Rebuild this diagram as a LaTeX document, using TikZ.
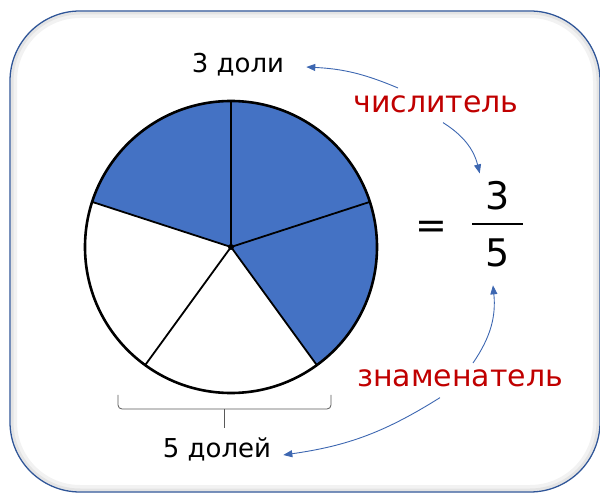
\documentclass[tikz,border=0pt]{standalone}
\usepackage{fontspec}
\setmainfont{DejaVu Sans}
\usetikzlibrary{arrows.meta,calc}
\definecolor{pieblue}{HTML}{4472C4}
\definecolor{frameblue}{HTML}{2F5597}
\definecolor{arrowblue}{HTML}{3D67B1}
\definecolor{termred}{HTML}{C00000}
\definecolor{bracegray}{HTML}{595959}
\tikzset{
  txt/.style={inner sep=0pt, anchor=base, font=\fontsize{26}{30}\selectfont},
  term/.style={inner sep=0pt, anchor=base, text=termred, font=\fontsize{30}{34}\selectfont},
  big/.style={inner sep=0pt, font=\fontsize{38}{42}\selectfont},
  arr/.style={-{Triangle[length=9pt,width=7pt]}, line width=0.9pt, draw=arrowblue},
  brc/.style={line width=0.8pt, draw=bracegray, rounded corners=4pt},
}
\begin{document}
\begin{tikzpicture}[x=1pt, y=1pt]
  \useasboundingbox (0,0) rectangle (600,493);
  % frame with a soft inner shade
  \draw[black, opacity=0.05, line width=6pt, rounded corners=66pt] (14,5) rectangle (596,478);
  \draw[black, opacity=0.06, line width=3pt, rounded corners=68pt] (12,3) rectangle (598,480);
  \draw[frameblue, line width=1.3pt, rounded corners=70pt] (10,1) rectangle (600,482);

  % pie with five parts, three of them shaded
  \node[circle, minimum size=292pt, inner sep=0pt, outer sep=0pt] (pie) at (231,246) {};
  \fill[pieblue] (pie.center) -- (pie.162) arc[start angle=162, end angle=-54, radius=146pt] -- cycle;
  \foreach \a in {90,18,-54,-126,162}
    \draw[line width=1.8pt] (pie.center) -- (pie.\a);
  \draw[line width=2.6pt] (pie.center) circle[radius=146pt];
  \fill (pie.center) circle[radius=3pt];

  % labels
  \node[txt] (parts) at (238,420) {3 доли};
  \node[term] (numlbl) at (436,380) {числитель};
  \node[big] (eq) at (431,263) {=};
  \node[big] (fnum) at (498,297) {3};
  \node[big] (fden) at (498,240) {5};
  \draw[line width=2pt] ($(fnum)!0.5!(fden)+(-26,0)$) -- ++(51,0);
  \node[term] (denlbl) at (460,106) {знаменатель};
  \node[txt] (whole) at (217,36) {5 долей};

  % brace under the pie
  \draw[brc] (118,98) -- (118,84) -- (331,84) -- (331,98);
  \draw[brc] (224,84) -- (224,65);

  % arrows
  \draw[arr] ($(numlbl.north)+(-38,8)$) to[bend right=10] ($(parts.base east)+(22,6)$);
  \draw[arr] ($(numlbl.south)+(7,-9)$) to[bend left=22] ($(fnum.north west)+(-6,8)$);
  \draw[arr] ($(denlbl.north)+(13,7)$) to[bend right=20] ($(fden.south)+(-5,-18)$);
  \draw[arr] ($(denlbl.south)+(-20,-10)$) to[bend left=12] ($(whole.base east)+(12,2)$);
\end{tikzpicture}
\end{document}
